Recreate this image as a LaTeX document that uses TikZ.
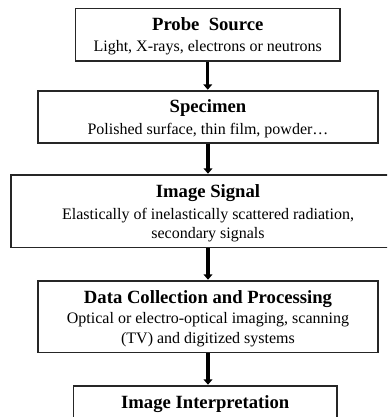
\documentclass[tikz,border=0pt]{standalone}
\usepackage{fontspec}
\setmainfont{Liberation Serif}
\usetikzlibrary{arrows.meta,calc}
\begin{document}
\begin{tikzpicture}[x=0.75pt,y=-0.75pt,
  box/.style={draw=black!85,line width=0.9pt,rectangle,inner sep=0pt},
  ttl/.style={anchor=base,inner sep=0pt,font=\fontsize{14}{16}\selectfont\bfseries},
  bdy/.style={anchor=base,inner sep=0pt,font=\fontsize{12}{15}\selectfont},
  arr/.style={line width=2.4pt,draw=black,-{Triangle[width=6.5pt,length=4pt]},shorten >=0.5pt}]
\useasboundingbox (0,0) rectangle (387,417);
\clip (0,0) rectangle (387,417);
% boxes
\node[box,minimum width=198.4pt,minimum height=39.4pt] (b1) at (207.75,34.75) {};
\node[box,minimum width=255pt,minimum height=39pt] (b2) at (208,117) {};
\node[box,minimum width=295.5pt,minimum height=54.4pt] (b3) at (208,211.25) {};
\node[box,minimum width=255pt,minimum height=53.6pt] (b4) at (208,316.75) {};
\node[box,minimum width=197.6pt,minimum height=40.5pt] (b5) at (205.25,413) {};
% texts
\node[ttl] (t1) at (207.75,30.5) {Probe~ Source};
\node[bdy] (s1) at (207.75,52) {Light, X-rays, electrons or neutrons};
\node[ttl] (t2) at (208,113) {Specimen};
\node[bdy] (s2) at (208,134.5) {Polished surface, thin film, powder…};
\node[ttl] (t3) at (208,197.3) {Image Signal};
\node[bdy] (s3a) at (208,219) {Elastically of inelastically scattered radiation,};
\node[bdy] (s3b) at (208,238.5) {secondary signals};
\node[ttl] (t4) at (208,303.3) {Data Collection and Processing};
\node[bdy] (s4a) at (208,323.3) {Optical or electro-optical imaging, scanning};
\node[bdy] (s4b) at (208,343.3) {(TV) and digitized systems};
\node[ttl] (t5) at (205.25,408) {Image Interpretation};
% arrows
\draw[arr] (b1.south) -- (b1.south |- b2.north);
\draw[arr] (b2.south) -- (b2.south |- b3.north);
\draw[arr] (b3.south) -- (b3.south |- b4.north);
\draw[arr] (b4.south) -- (b4.south |- b5.north);
\end{tikzpicture}
\end{document}
